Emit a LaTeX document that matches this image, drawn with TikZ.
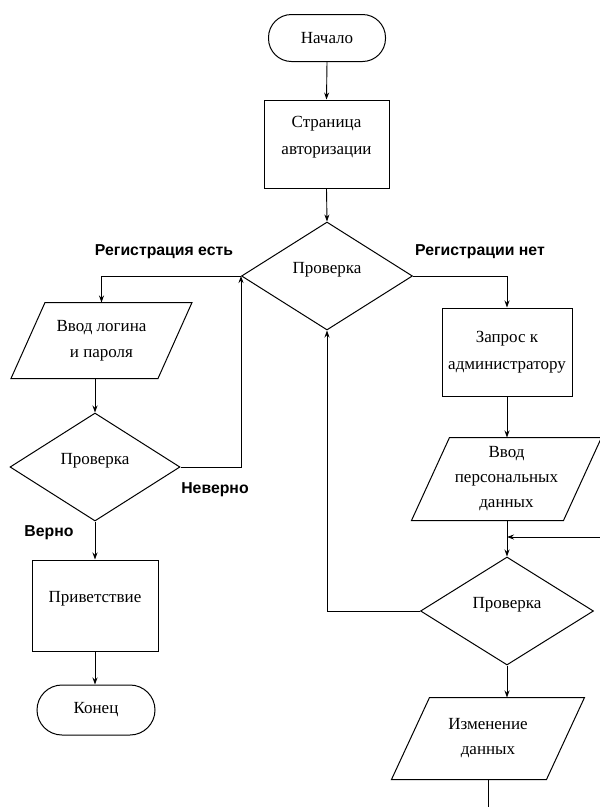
\documentclass[tikz,border=0pt]{standalone}
\usepackage{fontspec}
\setmainfont{Liberation Serif}
\newfontfamily\lblfont{Liberation Sans}
\usetikzlibrary{shapes.geometric,arrows.meta}
\newcommand\iopara[2]{\draw[iobox] ([xshift=#2]#1.north west) -- ([xshift=#2]#1.north east) -- ([xshift=-#2]#1.south east) -- ([xshift=-#2]#1.south west) -- cycle;}
\begin{document}
\begin{tikzpicture}[x=1pt,y=-1pt,
  base/.style={line width=1pt, font=\fontsize{17}{27}\selectfont, align=center, inner sep=0pt},
  term/.style={base, draw, rectangle, rounded corners=23pt},
  proc/.style={base, draw, rectangle},
  dec/.style={base, draw, diamond, text depth=16pt},
  io/.style={base, rectangle},
  lbl/.style={font=\lblfont\fontsize{15.8}{18}\selectfont\bfseries, inner sep=0pt},
  arr/.style={line width=0.9pt, -{Stealth[length=7pt,width=5pt]}},
  conn/.style={line width=0.9pt},
  iobox/.style={line width=1pt}]
\useasboundingbox[fill=white] (0,0) rectangle (600,807);

% nodes
\node[term, minimum width=117, minimum height=47] (start) at (327,38) {Начало};
\node[proc, minimum width=125, minimum height=88, text depth=17pt] (auth) at (326.5,144) {Страница\\авторизации};
\node[dec, minimum width=171, minimum height=108] (d1) at (327,276) {Проверка};
\node[io, minimum width=146, minimum height=75, font=\fontsize{17}{26}\selectfont] (p1) at (101.5,340.5) {Ввод логина\\и пароля};
\iopara{p1}{17}
\node[dec, minimum width=170, minimum height=108] (d2) at (95,467) {Проверка};
\node[proc, minimum width=126, minimum height=91, text depth=18pt] (greet) at (95,605.5) {Приветствие};
\node[term, minimum width=118, minimum height=50, rounded corners=25pt] (end) at (96,710) {Конец};
\node[proc, minimum width=130, minimum height=88] (req) at (507,352) {Запрос к\\администратору};
\node[io, minimum width=151, minimum height=82, font=\fontsize{17}{25}\selectfont] (p2) at (506.5,479) {Ввод\\персональных\\данных};
\iopara{p2}{19}
\node[dec, minimum width=173, minimum height=108] (d3) at (507,611) {Проверка};
\node[io, minimum width=154, minimum height=81, font=\fontsize{17}{25}\selectfont] (p3) at (488,738.5) {Изменение\\данных};
\iopara{p3}{19}

% labels
\node[lbl] (lyes) at (164,252) {Регистрация есть};
\node[lbl] (lno) at (480,252) {Регистрации нет};
\node[lbl] (lwrong) at (215,490) {Неверно};
\node[lbl] (lright) at (49,533) {Верно};

% connectors
\coordinate (inR) at (600,537);
\coordinate (bot) at (488,807);
\draw[arr] (start.south) -- (auth.north);
\draw[arr] (auth.south) -- (d1.north);
\draw[arr] (d1.west) -| (p1.north);
\draw[arr] (p1.south -| d2.north) -- (d2.north);
\draw[arr] (d2.east) -| (d1.west);
\draw[arr] (d2.south) -- (greet.north);
\draw[arr] (greet.south) -- (greet.south |- end.north);
\draw[arr] (d1.east) -| (req.north);
\draw[arr] (req.south) -- (req.south |- p2.north);
\draw[arr] (d3.north |- p2.south) -- (d3.north);
\draw[arr] (inR) -- (inR -| d3.north);
\draw[arr] (d3.west) -| (d1.south);
\draw[arr] (d3.south) -- (d3.south |- p3.north);
\draw[conn] (p3.south) -- (bot);
\end{tikzpicture}
\end{document}
